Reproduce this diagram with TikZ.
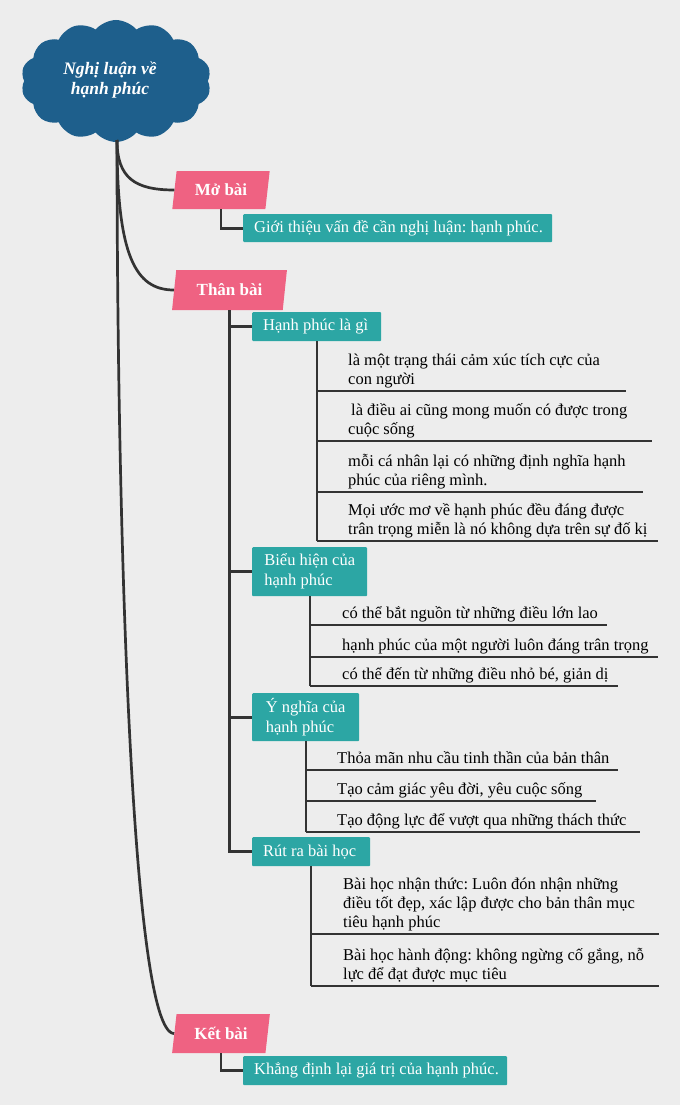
\documentclass[tikz,border=0pt]{standalone}
\usepackage{fontspec}
\setmainfont{Liberation Serif}
\usetikzlibrary{shapes.geometric,shapes.symbols}
\definecolor{bgc}{HTML}{EDEDED}
\definecolor{cloudblue}{HTML}{1E5F8C}
\definecolor{pinkc}{HTML}{EF6282}
\definecolor{tealc}{HTML}{2CA6A4}
\definecolor{linec}{HTML}{333333}
\frenchspacing
% name, vertical x, underline y, right x, text x, text
\newcommand\leafitem[6]{%
  \coordinate (#1a) at (#2,#3);
  \coordinate (#1b) at (#4,#3);
  \node[leaf] (#1) at (#5,#3-7) {#6};
  \draw[conn] (#1a) -- (#1b);
}
\begin{document}
\begin{tikzpicture}[x=1pt,y=-1pt,
  conn/.style={draw=linec, line width=2.7pt},
  pinkbox/.style={shape=trapezium, trapezium left angle=78, trapezium right angle=102,
    trapezium stretches=true, fill=pinkc, text=white, inner sep=0pt,
    font=\fontsize{17}{19}\selectfont\bfseries},
  tealbox/.style={fill=tealc, text=white, anchor=north west, inner xsep=11pt,
    inner ysep=0pt, align=left, rounded corners=1pt, font=\fontsize{16.5}{20}\selectfont},
  leaf/.style={anchor=base west, inner sep=0pt, align=left, text=black,
    font=\fontsize{16.5}{19}\selectfont}
]
\useasboundingbox (0,0) rectangle (680,1105);
\fill[bgc] (0,0) rectangle (680,1105);

% root cloud
\coordinate (root) at (117,140);
\node[shape=cloud, cloud puffs=14, cloud puff arc=100, aspect=1.6, fill=cloudblue,
  minimum width=190pt, minimum height=122pt, inner sep=0pt] (cl) at (116,81) {};
\node[text=white, align=center, font=\fontsize{17.5}{19.5}\selectfont\bfseries\itshape] (clt) at (110,80)
  {Nghị luận về\\hạnh phúc};

% level 1
\node[pinkbox, minimum width=98pt, minimum height=38pt] (mb) at (221,190) {Mở bài};
\node[pinkbox, minimum width=115pt, minimum height=40pt] (tb) at (229.5,290) {Thân bài};
\node[pinkbox, minimum width=98pt, minimum height=39pt] (kb) at (221,1033.5) {Kết bài};

\draw[conn] (root) .. controls (117,178) and (135,190) .. (mb.west);
\draw[conn] (root) .. controls (117,255) and (135,290) .. (tb.west);
\draw[conn] (root) .. controls (117,500) and (130,1033.5) .. (kb.west);

\node[tealbox, minimum height=28pt] (gt) at (243,214)
  {\makebox[287pt][l]{Giới thiệu vấn đề cần nghị luận: hạnh phúc.}};
\node[tealbox, minimum height=29pt] (kd) at (243,1056)
  {\makebox[242pt][l]{Khẳng định lại giá trị của hạnh phúc.}};
\draw[conn] (mb.south) |- (gt.west);
\draw[conn] (kb.south) |- (kd.west);

% level 2
\node[tealbox, minimum height=29pt] (hp) at (252,312) {\makebox[107pt][l]{Hạnh phúc là gì}};
\node[tealbox, minimum height=49pt, minimum width=115pt] (bh) at (252,547) {Biểu hiện của\\hạnh phúc};
\node[tealbox, minimum height=48pt, minimum width=107pt] (yn) at (252,693) {Ý nghĩa của\\hạnh phúc};
\node[tealbox, minimum height=29pt] (rr) at (252,837) {\makebox[96pt][l]{Rút ra bài học}};
\draw[conn] (tb.south) |- (rr.west);
\draw[conn] (tb.south) |- (hp.west);
\draw[conn] (tb.south) |- (bh.west);
\draw[conn] (tb.south) |- (yn.west);

% leaves: Hanh phuc la gi
\leafitem{a1}{317}{391}{626}{348}{là một trạng thái cảm xúc tích cực của\\con người}
\leafitem{a2}{317}{441}{652}{348}{\hspace{3pt}là điều ai cũng mong muốn có được trong\\cuộc sống}
\leafitem{a3}{317}{492}{643}{348}{mỗi cá nhân lại có những định nghĩa hạnh\\phúc của riêng mình.}
\leafitem{a4}{317}{541}{658}{348}{Mọi ước mơ về hạnh phúc đều đáng được\\trân trọng miễn là nó không dựa trên sự đố kị}
\draw[conn] (hp.south -| a1a) -- (a4a);

% leaves: Bieu hien
\leafitem{b1}{310}{625}{607}{342}{có thể bắt nguồn từ những điều lớn lao}
\leafitem{b2}{310}{657}{658}{342}{hạnh phúc của một người luôn đáng trân trọng}
\leafitem{b3}{310}{686}{618}{342}{có thể đến từ những điều nhỏ bé, giản dị}
\draw[conn] (bh.south -| b1a) -- (b3a);

% leaves: Y nghia
\leafitem{c1}{306}{770}{618}{337}{Thỏa mãn nhu cầu tinh thần của bản thân}
\leafitem{c2}{306}{801}{596}{337}{Tạo cảm giác yêu đời, yêu cuộc sống}
\leafitem{c3}{306}{832}{640}{337}{Tạo động lực để vượt qua những thách thức}
\draw[conn] (yn.south -| c1a) -- (c3a);

% leaves: Rut ra bai hoc
\leafitem{d1}{311}{934}{659}{343}{Bài học nhận thức: Luôn đón nhận những\\điều tốt đẹp, xác lập được cho bản thân mục\\tiêu hạnh phúc}
\leafitem{d2}{311}{986}{659}{343}{Bài học hành động: không ngừng cố gắng, nỗ\\lực để đạt được mục tiêu}
\draw[conn] (rr.south -| d1a) -- (d2a);
\end{tikzpicture}
\end{document}
